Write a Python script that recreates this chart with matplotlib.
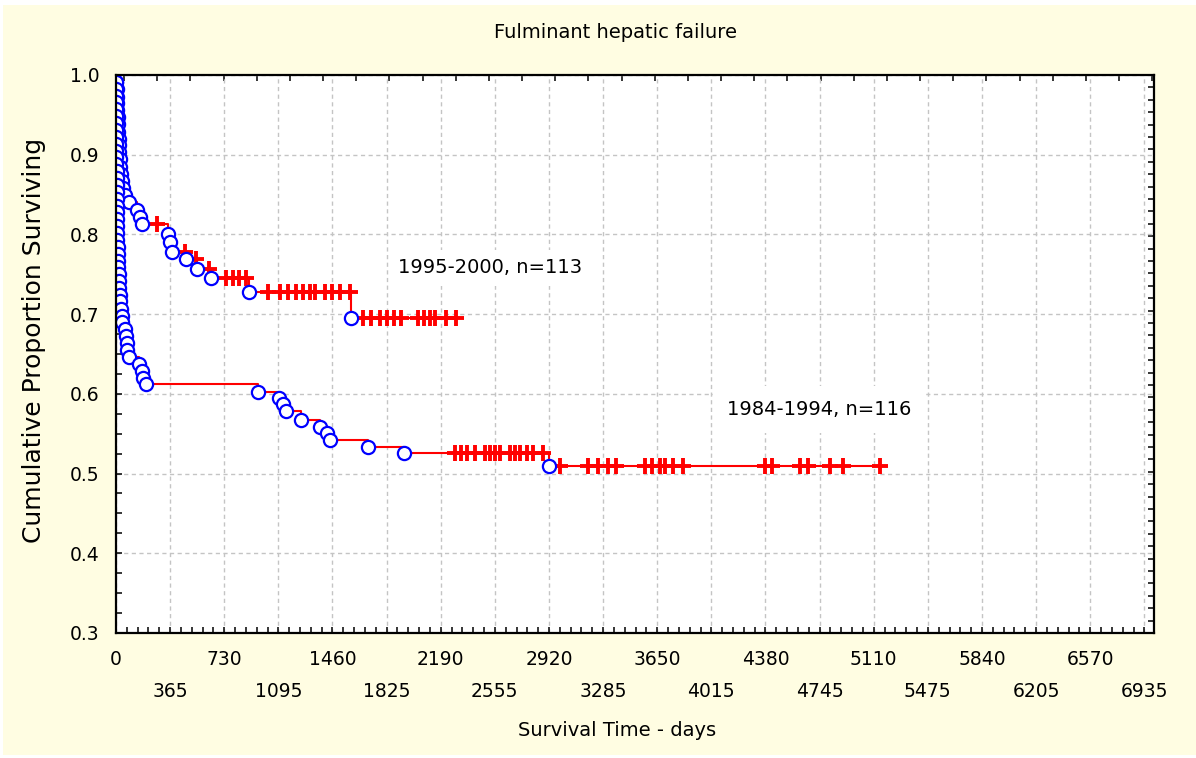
import numpy as np
import matplotlib
matplotlib.use('Agg')
import matplotlib.pyplot as plt
from matplotlib.patches import Rectangle

# Datos (dias, supervivencia acumulada)

# Grupo 1995-2000, n=113
times_a = [3, 5, 7, 8, 10, 12, 14, 16, 18, 20, 22, 25, 28, 33, 40, 48, 62, 90,
           144, 162, 173, 353, 364, 375, 472, 544, 638, 896, 1588]
surv_a = [0.991, 0.982, 0.973, 0.965, 0.956, 0.947, 0.938, 0.929, 0.920, 0.912,
          0.903, 0.894, 0.885, 0.876, 0.867, 0.858, 0.850, 0.841,
          0.831, 0.822, 0.813, 0.801, 0.790, 0.778, 0.769, 0.757, 0.745, 0.728, 0.695]
cens_a = [274, 465, 540, 630, 745, 790, 830, 880, 1025, 1105, 1159, 1213, 1260,
          1307, 1341, 1408, 1456, 1510, 1577, 1665, 1718, 1779, 1826, 1873, 1921,
          2035, 2076, 2116, 2150, 2224, 2291]

# Grupo 1984-1994, n=116
times_b = [0, 0, 1, 1, 1, 1, 2, 2, 2, 2, 3, 3, 3, 4, 4, 4, 5, 5, 6, 6,
           7, 8, 9, 10, 11, 12, 14, 16, 18, 20,
           22, 24, 27, 32, 38, 42, 61, 70, 74, 76, 88, 157, 173, 184, 200,
           957, 1098, 1125, 1146, 1247, 1375, 1422, 1442, 1698, 1941, 2918]
surv_b = [0.991, 0.983, 0.974, 0.966, 0.957, 0.948, 0.940, 0.931, 0.922, 0.914,
          0.905, 0.897, 0.888, 0.879, 0.871, 0.862, 0.853, 0.845, 0.836, 0.828,
          0.819, 0.810, 0.802, 0.793, 0.784, 0.776, 0.767, 0.759, 0.750, 0.741,
          0.733, 0.724, 0.716, 0.707, 0.698, 0.690, 0.681, 0.672, 0.664, 0.655,
          0.646, 0.638, 0.629, 0.620, 0.612,
          0.602, 0.595, 0.587, 0.578, 0.567, 0.558, 0.551, 0.542, 0.533, 0.526, 0.509]
cens_b = [2285, 2325, 2366, 2419, 2487, 2520, 2554, 2588, 2655, 2689, 2723, 2770,
          2810, 2878, 2992, 3181, 3248, 3316, 3370, 3565, 3612, 3666, 3700, 3754,
          3821, 4374, 4421, 4610, 4664, 4812, 4900, 5149]

label_a = '1995-2000, n=113'
label_b = '1984-1994, n=116'

x_major = list(range(0, 7000, 365))
y_major = [0.3, 0.4, 0.5, 0.6, 0.7, 0.8, 0.9, 1.0]


# Devuelve el valor de la curva escalonada en los tiempos censurados
def step_value(times, surv, t_cens):
    full = np.concatenate([[1.0], surv])
    idx = np.searchsorted(times, t_cens, side='right')
    return full[idx]


fig = plt.figure(figsize=(11.96, 7.58), dpi=100, facecolor='white')
fig.patches.append(Rectangle((3 / 1196, 3 / 758), 1193 / 1196, 750 / 758,
                             transform=fig.transFigure, facecolor='#FFFDE2',
                             edgecolor='none', zorder=-10))

ax = fig.add_axes([116 / 1196, 125 / 758, 1038 / 1196, 558 / 758])
ax.set_facecolor('white')
ax.set_xlim(0, 7000)
ax.set_ylim(0.3, 1.0)

for times, surv, cens in [(times_a, surv_a, cens_a), (times_b, surv_b, cens_b)]:
    xs = [0] + times + [max(cens)]
    ys = [1.0] + surv + [surv[-1]]
    ax.step(xs, ys, where='post', color='red', lw=1.5, zorder=3)
    ax.plot(cens, step_value(times, surv, cens), linestyle='none', marker='+',
            ms=12, mew=2.8, color='red', zorder=4)
    ax.plot(times, surv, linestyle='none', marker='o', ms=9.5, mew=1.6,
            mfc='white', mec='blue', zorder=5)

ax.text(1900, 0.758, label_a, fontsize=14, va='center', ha='left',
        bbox=dict(facecolor='white', edgecolor='none', pad=6), zorder=6)
ax.text(4118, 0.580, label_b, fontsize=14, va='center', ha='left',
        bbox=dict(facecolor='white', edgecolor='none', pad=10), zorder=6)

# Rejilla y marcas
ax.grid(True, which='major', color='#c4c4c4', linestyle=(0, (3, 2.5)), lw=1.0)
ax.set_xticks(x_major)
ax.set_xticklabels([str(v) if i % 2 == 0 else '' for i, v in enumerate(x_major)],
                   fontsize=13.5)
ax.set_xticks(np.arange(0, 7000, 73), minor=True)
ax.set_yticks(y_major)
ax.set_yticklabels([f'{v:.1f}' for v in y_major], fontsize=13.5)
ax.set_yticks(np.arange(0.3, 1.0, 0.025), minor=True)
ax.tick_params(which='both', direction='in', length=4, width=1.1, color='black')
ax.tick_params(axis='x', pad=12.5)
ax.tick_params(axis='y', pad=12)

sec = ax.secondary_xaxis('bottom')
sec.set_xticks(x_major[1::2])
sec.set_xticklabels([str(v) for v in x_major[1::2]], fontsize=13.5)
sec.tick_params(length=0, pad=35)
sec.spines['bottom'].set_visible(False)

top = ax.secondary_xaxis('top')
top.set_xticks(np.arange(54, 7000, 223.7))
top.set_xticklabels([])
top.tick_params(direction='in', length=4, width=1.1)
top.spines['top'].set_visible(False)

right = ax.secondary_yaxis('right')
right.set_yticks(np.linspace(0.3, 1.0, 46))
right.set_yticklabels([])
right.tick_params(direction='in', length=4, width=1.1)
right.spines['right'].set_visible(False)

for s in ax.spines.values():
    s.set_linewidth(1.6)
    s.set_zorder(7)

fig.text(615 / 1196, 1 - 33 / 758, 'Fulminant hepatic failure', fontsize=14,
         ha='center', va='center')
fig.text(617 / 1196, 1 - 731 / 758, 'Survival Time - days', fontsize=14,
         ha='center', va='center')
fig.text(34 / 1196, 1 - 340 / 758, 'Cumulative Proportion Surviving', fontsize=18,
         ha='center', va='center', rotation=90)

fig.savefig('out.png', dpi=100, facecolor=fig.get_facecolor())
